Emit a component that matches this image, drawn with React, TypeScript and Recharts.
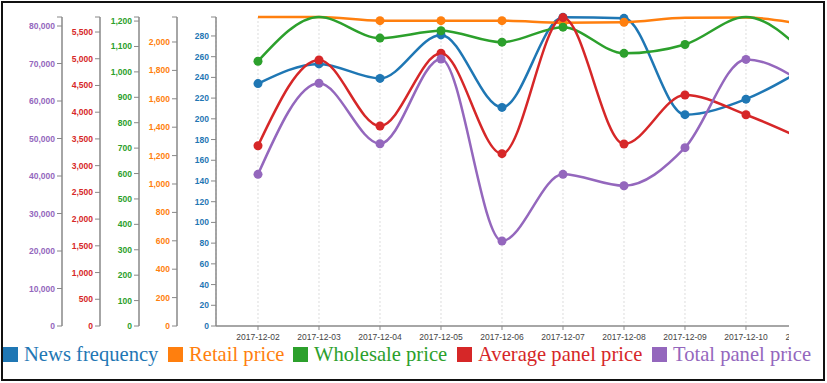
import { LineChart, Line, XAxis, YAxis, CartesianGrid } from "recharts";

const dates = [
  "2017-12-02", "2017-12-03", "2017-12-04", "2017-12-05", "2017-12-06",
  "2017-12-07", "2017-12-08", "2017-12-09", "2017-12-10", "2017-12-11",
];

const newsFrequency = [234, 253, 239, 281, 211, 298, 297, 204, 219, 250];
const retailPrice = [2176, 2176, 2150, 2150, 2150, 2136, 2139, 2170, 2172, 2120];
const wholesalePrice = [1042, 1216, 1133, 1162, 1117, 1176, 1073, 1108, 1216, 1066];
const averagePanelPrice = [3373, 4977, 3742, 5102, 3224, 5770, 3405, 4322, 3953, 3461];
const totalPanelPrice = [40450, 64720, 48610, 71200, 22670, 40450, 37400, 47550, 71100, 64270];

const newsTicks = [0, 20, 40, 60, 80, 100, 120, 140, 160, 180, 200, 220, 240, 260, 280];
const retailTicks = [0, 200, 400, 600, 800, 1000, 1200, 1400, 1600, 1800, 2000];
const wholesaleTicks = [0, 100, 200, 300, 400, 500, 600, 700, 800, 900, 1000, 1100, 1200];
const averageTicks = [0, 500, 1000, 1500, 2000, 2500, 3000, 3500, 4000, 4500, 5000, 5500];
const totalTicks = [0, 10000, 20000, 30000, 40000, 50000, 60000, 70000, 80000];

// axis id order = nearest to the plot first
const series = [
  { id: 0, key: "news", name: "News frequency", color: "#1f77b4", values: newsFrequency, top: 298.3, ticks: newsTicks, width: 39 },
  { id: 1, key: "retail", name: "Retail price", color: "#ff7f0e", values: retailPrice, top: 2176, ticks: retailTicks, width: 38 },
  { id: 2, key: "wholesale", name: "Wholesale price", color: "#2ca02c", values: wholesalePrice, top: 1216, ticks: wholesaleTicks, width: 39 },
  { id: 3, key: "average", name: "Average panel price", color: "#d62728", values: averagePanelPrice, top: 5781, ticks: averageTicks, width: 38 },
  { id: 4, key: "total", name: "Total panel price", color: "#9467bd", values: totalPanelPrice, top: 82400, ticks: totalTicks, width: 55 },
];

// retail points near the top edge were drawn without markers
const retailDotLimit = 2165;

const legendX = [3, 168, 293, 457, 652];

const data = dates.map((d, i) => {
  const row: Record<string, number | string> = { i, date: d };
  series.forEach((s) => (row[s.key] = s.values[i]));
  return row;
});

const fmt = (v: number) => v.toLocaleString("en-US");

export default function App() {
  return (
    <div style={{ position: "absolute", left: 0, top: 0, width: 827, height: 383, background: "#fff" }}>
      <div style={{ position: "absolute", left: 0, top: 0, width: 789, height: 356, overflow: "hidden" }}>
        <LineChart width={900} height={356} data={data} margin={{ top: 17, right: 0, bottom: 0, left: 7 }}>
          <CartesianGrid vertical horizontal={false} stroke="#ddd" strokeDasharray="2 2" />
          <XAxis
            dataKey="i"
            type="number"
            domain={[-0.6885, 10.525]}
            ticks={[0, 1, 2, 3, 4, 5, 6, 7, 8, 9]}
            tickFormatter={(v: number) => dates[v] ?? ""}
            interval={0}
            height={30}
            tickSize={4}
            tickMargin={4}
            tick={{ fontSize: 8.5, fill: "#444", fontFamily: "Liberation Sans" }}
            stroke="#888"
            axisLine={{ stroke: "#888", strokeWidth: 1.5 }}
          />
          {series.map((s) => (
            <YAxis
              key={s.key}
              yAxisId={s.id}
              orientation="left"
              width={s.width}
              domain={[0, s.top]}
              ticks={[...s.ticks, s.top]}
              interval={0}
              tickSize={5}
              tickFormatter={(v: number) => (v === s.top ? "" : fmt(v))}
              tick={{ fontSize: 8.5, fill: s.color, fontFamily: "Liberation Sans", fontWeight: 600 }}
              tickLine={{ stroke: "#888" }}
              axisLine={{ stroke: "#888", strokeWidth: 1.5 }}
            />
          ))}
          {series.map((s) => {
            const limit = s.key === "retail" ? retailDotLimit : s.top;
            return (
              <Line
                key={s.key}
                yAxisId={s.id}
                dataKey={s.key}
                type="monotone"
                stroke={s.color}
                strokeWidth={2.5}
                isAnimationActive={false}
                dot={(p: any) =>
                  p.value >= limit ? (
                    <g key={`${s.key}-${p.index}`} />
                  ) : (
                    <circle key={`${s.key}-${p.index}`} cx={p.cx} cy={p.cy} r={4.5} fill={s.color} stroke="none" />
                  )
                }
              />
            );
          })}
        </LineChart>
      </div>
      {series.map((s, k) => (
        <div
          key={s.key}
          style={{
            position: "absolute",
            left: legendX[k],
            top: 344,
            display: "flex",
            alignItems: "center",
            fontFamily: "Liberation Serif",
            fontSize: 20.6,
            lineHeight: "20px",
            whiteSpace: "nowrap",
            color: s.color,
          }}
        >
          <span style={{ display: "inline-block", width: 15, height: 15, background: s.color, marginRight: 6 }} />
          <span>{s.name}</span>
        </div>
      ))}
      <div
        style={{
          position: "absolute",
          left: 1,
          top: 1,
          width: 820,
          height: 376,
          border: "2.5px solid #111",
        }}
      />
    </div>
  );
}
